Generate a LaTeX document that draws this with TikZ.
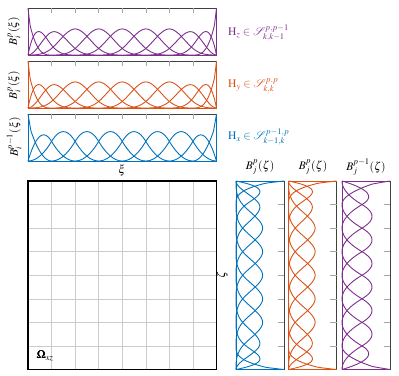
\documentclass[tikz,border=0pt]{standalone}
\usepackage{mathptmx}
\usepackage{bm}
\definecolor{mpurple}{HTML}{7E2F8E}
\definecolor{morange}{HTML}{D95319}
\definecolor{mblue}{HTML}{0072BD}
\tikzset{
  curve/.style={line width=0.9pt, line join=round, samples=41},
  frame/.style={draw=black!75, line width=0.8pt},
  tickm/.style={draw=black!35, line width=0.6pt},
  gridl/.style={draw=black!20, line width=0.6pt},
  lab/.style={font=\fontsize{11.5}{13}\selectfont, inner sep=1pt},
  declare function={
    cA(\u)=((\u)<1)*(1-(\u))*(1-(\u))*(1-(\u));
    cB(\u)=((\u)<1)*(3*(\u)-4.5*(\u)*(\u)+1.75*(\u)*(\u)*(\u))+((\u)>=1)*((\u)<2)*(2-(\u))*(2-(\u))*(2-(\u))/4;
    cC(\u)=((\u)<1)*(1.5*(\u)*(\u)-11/12*(\u)*(\u)*(\u))+((\u)>=1)*((\u)<2)*(7/12*(\u)*(\u)*(\u)-3*(\u)*(\u)+4.5*(\u)-1.5)+((\u)>=2)*((\u)<3)*(3-(\u))*(3-(\u))*(3-(\u))/6;
    cU(\u)=(abs(\u)<1)*(2/3-(\u)*(\u)+abs(\u)*(\u)*(\u)/2)+(abs(\u)>=1)*(abs(\u)<2)*(2-abs(\u))*(2-abs(\u))*(2-abs(\u))/6;
    qA(\u)=((\u)<1)*(1-(\u))*(1-(\u));
    qB(\u)=((\u)<1)*(2*(\u)-1.5*(\u)*(\u))+((\u)>=1)*((\u)<2)*(2-(\u))*(2-(\u))/2;
    qU(\u)=(abs(\u)<0.5)*(0.75-(\u)*(\u))+(abs(\u)>=0.5)*(abs(\u)<1.5)*(1.5-abs(\u))*(1.5-abs(\u))/2;
    gm(\v)=((\v)<=0.76)*(\v)/1.2+((\v)>0.76)*(0.6333+1.528*((\v)-0.76));
  }
}
\newcommand\hcurve[3]{\draw[curve] plot[domain=#1:#2] (\x,{gm(#3)});}
\newcommand\vcurve[3]{\draw[curve] plot[domain=#1:#2] ({gm(#3)},\x);}
\newcommand\cubicset[1]{%
  #1{0}{1}{cA(\x)}#1{0}{2}{cB(\x)}#1{0}{3}{cC(\x)}%
  \foreach \c in {2,...,6}{#1{\c-2}{\c+2}{cU(\x-\c)}}%
  #1{5}{8}{cC(8-\x)}#1{6}{8}{cB(8-\x)}#1{7}{8}{cA(8-\x)}}
\newcommand\quadset[1]{%
  #1{0}{1}{qA(\x)}#1{0}{2}{qB(\x)}%
  \foreach \k in {2,...,7}{#1{\k-2}{\k+1}{qU(\x-\k+0.5)}}%
  #1{6}{8}{qB(8-\x)}#1{7}{8}{qA(8-\x)}}
\newcommand\hplotbox[3]{%
  \begin{scope}[shift={(28pt,-#1pt)}, x=23.5625pt, y=47pt]
    \draw[frame] (0,0) rectangle (8,1);
    \foreach \i in {1,...,7}{\draw[tickm] (\i,1) -- (\i,0.89);}
    \begin{scope}[#2]
      #3{\hcurve}
      \draw[curve] (0,1) -- (0,0) -- (8,0) -- (8,1);
    \end{scope}
  \end{scope}}
\newcommand\vplotbox[3]{%
  \begin{scope}[shift={(#1pt,-369.5pt)}, x=48pt, y=23.5625pt]
    \draw[frame] (0,0) rectangle (1,8);
    \foreach \i in {1,...,7}{\draw[tickm] (1,\i) -- (0.87,\i);}
    \begin{scope}[#2]
      #3{\vcurve}
      \draw[curve] (1,0) -- (0,0) -- (0,8) -- (1,8);
    \end{scope}
  \end{scope}}
\begin{document}
\begin{tikzpicture}[x=1pt,y=-1pt]
  \path[use as bounding box] (0,0) rectangle (399,375);
  % top plots
  \hplotbox{55}{mpurple}{\cubicset}
  \hplotbox{108}{morange}{\cubicset}
  \hplotbox{161}{mblue}{\quadset}
  \node[lab, rotate=90] (ya) at (14,31) {$B_i^p(\xi)$};
  \node[lab, rotate=90] (yb) at (14,85) {$B_i^p(\xi)$};
  \node[lab, rotate=90] (yc) at (14,137) {$B_i^{p-1}(\xi)$};
  \node[lab] (xi) at (122,170) {$\xi$};
  \node[lab, anchor=west, text=mpurple] (hz) at (227,33) {$\mathrm{H}_z\in\mathcal{S}^{p,p-1}_{k,k-1}$};
  \node[lab, anchor=west, text=morange] (hy) at (227,86) {$\mathrm{H}_y\in\mathcal{S}^{p,p}_{k,k}$};
  \node[lab, anchor=west, text=mblue] (hx) at (227,137) {$\mathrm{H}_x\in\mathcal{S}^{p-1,p}_{k-1,k}$};
  % square domain
  \foreach \i in {1,...,7}{
    \draw[gridl] ({28+\i*23.5625},181) -- ({28+\i*23.5625},369.5);
    \draw[gridl] (28,{181+\i*23.5625}) -- (216.5,{181+\i*23.5625});
  }
  \draw[line width=1.6pt] (28,181) rectangle (216.5,369.5);
  \node[lab] (om) at (45,356) {$\bm{\Omega}_{xz}$};
  \node[lab, rotate=90] (ze) at (222,275) {$\zeta$};
  % right plots
  \vplotbox{236}{mblue}{\cubicset}
  \vplotbox{288.5}{morange}{\cubicset}
  \vplotbox{342}{mpurple}{\quadset}
  \node[lab] (ra) at (260,167) {$B_j^p(\zeta)$};
  \node[lab] (rb) at (313,167) {$B_j^p(\zeta)$};
  \node[lab] (rc) at (366,167) {$B_j^{p-1}(\zeta)$};
\end{tikzpicture}
\end{document}
